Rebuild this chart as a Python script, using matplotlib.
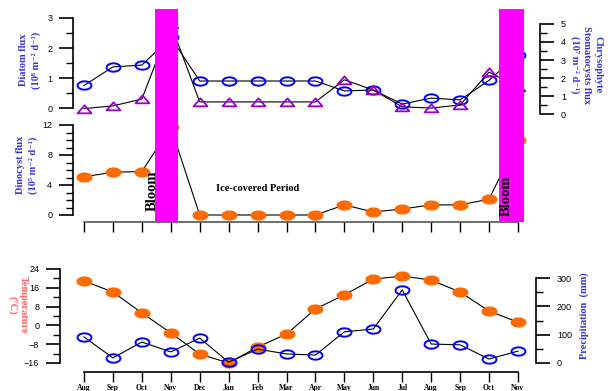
import numpy as np
import matplotlib
matplotlib.use('Agg')
import matplotlib.pyplot as plt
from matplotlib.path import Path
from matplotlib.ticker import FixedLocator

months = ['Aug', 'Sep', 'Oct', 'Nov', 'Dec', 'Jan', 'Feb', 'Mar',
          'Apr', 'May', 'Jun', 'Jul', 'Aug', 'Sep', 'Oct', 'Nov']
diatom = [0.75, 1.37, 1.43, 2.35, 0.9, 0.9, 0.9, 0.9, 0.9, 0.57, 0.6, 0.13, 0.33, 0.27, 0.92, 1.78]
chryso = [0.3, 0.45, 0.83, 5.0, 0.67, 0.67, 0.67, 0.67, 0.67, 1.9, 1.33, 0.4, 0.33, 0.5, 2.33, 1.5]
dinocyst = [5.1, 5.7, 5.8, 11.7, 0, 0, 0, 0, 0, 1.35, 0.4, 0.8, 1.35, 1.35, 2.1, 10.0]
temperature = [18.9, 14.2, 5.3, -3.2, -12.2, -16, -9.2, -3.7, 7.0, 13.0, 19.7, 21.0, 19.3, 14.2, 6.1, 1.4]
precip = [92, 18, 74, 39, 88, 3, 49, 32, 28, 110, 120, 258, 67, 64, 14, 42]
bloom_spans = [(2.45, 3.25), (14.35, 15.2)]

x = np.arange(len(months))

BLUE = '#0000ff'
ORANGE = '#ff6a00'
PURPLE = '#9900cc'
LABEL_BLUE = '#3535d8'
SERIF = ['Liberation Serif', 'DejaVu Serif']
SANS = ['Liberation Sans', 'DejaVu Sans']

# elliptic markers (the original is a bit squashed)
t = np.linspace(0, 2 * np.pi, 61)
ellipse = Path(np.column_stack([np.cos(t), 0.6 * np.sin(t)]), closed=True)
tri = Path([[-1, -0.55], [1, -0.55], [0, 0.6], [-1, -0.55]], closed=True)

W, H = 608, 391
X0, DX = 84, 28.93

fig = plt.figure(figsize=(W / 100, H / 100), dpi=100)


def add_axes(l, t, r, b):
    ax = fig.add_axes([l / W, 1 - b / H, (r - l) / W, (b - t) / H])
    ax.set_xlim((l - X0) / DX, (r - X0) / DX)
    ax.patch.set_alpha(0)
    return ax


def set_ylim_px(ax, t, b, v0, p0, scale):
    ax.set_ylim(v0 - (b - p0) / scale, v0 + (p0 - t) / scale)


def style_y(ax, side, major, minor, lo, hi):
    for s in ['top', 'bottom', 'left', 'right']:
        ax.spines[s].set_visible(s == side)
    ax.spines[side].set_bounds(lo, hi)
    ax.spines[side].set_linewidth(1.2)
    ax.yaxis.set_ticks_position(side)
    ax.yaxis.set_major_locator(FixedLocator(np.arange(lo, hi + major / 2, major)))
    ax.yaxis.set_minor_locator(FixedLocator(np.arange(lo, hi + minor / 2, minor)))
    ax.tick_params(axis='y', which='major', length=10, width=1.2, pad=5, labelsize=6.5)
    ax.tick_params(axis='y', which='minor', length=5, width=1.0)
    for lab in ax.get_yticklabels():
        lab.set_family(SANS)
    ax.set_xticks([])


def ftext(px, py, s, **kw):
    fig.text(px / W, 1 - py / H, s, ha='center', va='center', **kw)


# ---- top panel: diatom + chrysophyte
ax1 = add_axes(73, 8, 540, 118)
set_ylim_px(ax1, 8, 118, 0, 108, 30)
ax1.plot(x, diatom, color='black', lw=0.8, marker=ellipse, ms=10,
         mfc='none', mec=BLUE, mew=1.4)
style_y(ax1, 'left', 1, 0.5, 0, 3)

ax1r = add_axes(73, 8, 540, 118)
set_ylim_px(ax1r, 8, 118, 0, 114, 18)
ax1r.plot(x, chryso, color='black', lw=0.8, marker=tri, ms=10,
          mfc='none', mec=PURPLE, mew=1.3)
style_y(ax1r, 'right', 1, 0.5, 0, 5)

# ---- middle panel: dinocyst
ax2 = add_axes(73, 118, 540, 222)
set_ylim_px(ax2, 118, 222, 0, 215, 7.5)
ax2.plot(x, dinocyst, color='black', lw=0.8, marker=ellipse, ms=10.5,
         mfc=ORANGE, mec=ORANGE)
style_y(ax2, 'left', 4, 1, 0, 12)
ax2.spines['bottom'].set_visible(True)
ax2.spines['bottom'].set_bounds(0, 15)
ax2.spines['bottom'].set_color('#555555')
ax2.spines['bottom'].set_linewidth(1.2)
ax2.set_xticks(x)
ax2.tick_params(axis='x', length=7, width=1.0, direction='out', labelbottom=False)

# ---- bloom bars across top two panels
ov = add_axes(73, 9, 540, 222)
ov.set_ylim(0, 1)
ov.axis('off')
for a, b in bloom_spans:
    ov.axvspan(a, b, color='#ff00ff', lw=0)
ov.text(2.35, 0.146, 'Bloom', rotation=90, ha='center', va='center',
        fontsize=10.5, fontweight='bold', family=SERIF)
ov.text(14.59, 0.122, 'Bloom', rotation=90, ha='center', va='center',
        fontsize=10.5, fontweight='bold', family=SERIF)
ov.text(6.0, 0.155, 'Ice-covered Period', ha='center', va='center',
        fontsize=7.5, fontweight='bold', family=SERIF)

# ---- bottom panel: temperature + precipitation
ax3 = add_axes(60, 260, 536, 372)
set_ylim_px(ax3, 260, 372, -16, 363, 2.35)
ax3.plot(x, temperature, color='black', lw=0.8, marker=ellipse, ms=10.5,
         mfc=ORANGE, mec=ORANGE)
style_y(ax3, 'left', 8, 4, -16, 24)
ax3.spines['bottom'].set_visible(True)
ax3.spines['bottom'].set_bounds(0, 15)
ax3.spines['bottom'].set_linewidth(1.2)
ax3.set_xticks(x)
ax3.set_xticklabels(months, fontsize=5.5, fontweight='bold', family=SERIF)
ax3.tick_params(axis='x', length=7, width=1.0, pad=2)

ax3r = add_axes(60, 260, 536, 372)
set_ylim_px(ax3r, 260, 372, 0, 363, 85 / 300)
ax3r.plot(x, precip, color='black', lw=0.8, marker=ellipse, ms=10,
          mfc='none', mec=BLUE, mew=1.4)
style_y(ax3r, 'right', 100, 50, 0, 300)

# ---- axis titles
lab = dict(fontweight='bold', family=SERIF, fontsize=7.5, linespacing=1.35)
ftext(30, 60, 'Diatom flux\n(10⁸ m⁻² d⁻¹)', rotation=90, color=LABEL_BLUE, **lab)
ftext(27, 165, 'Dinocyst flux\n(10⁵ m⁻² d⁻¹)', rotation=90, color=LABEL_BLUE, **lab)
ftext(586, 65, 'Chrysophyte\nStomatocysts flux\n(10⁷ m⁻² d⁻¹)', rotation=-90,
      color=LABEL_BLUE, **lab)
ftext(17, 305, 'Temperature\n(°C)', rotation=-90, color='#ff6060', **lab)
ftext(584, 316, 'Precipitation  (mm)', rotation=90, color=LABEL_BLUE, **lab)

fig.savefig('out.png', dpi=100)
